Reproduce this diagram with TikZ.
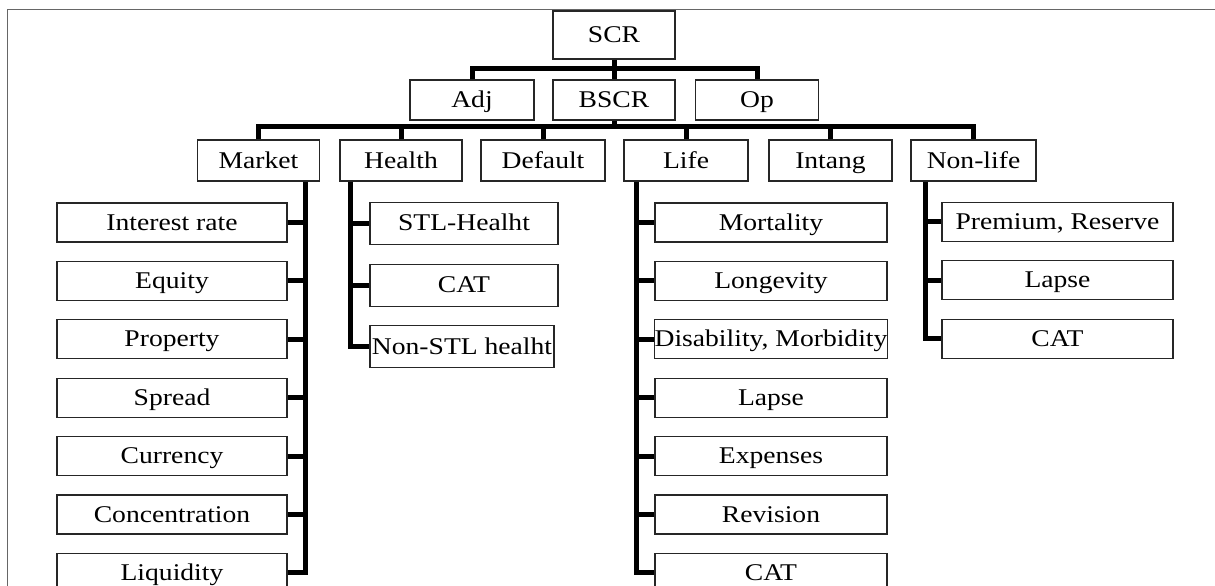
\documentclass[tikz,border=0pt]{standalone}
\usepackage{fontspec}
\setmainfont{Liberation Serif}[FakeStretch=1.15]
\usepackage{xcolor}

\begin{document}
\begin{tikzpicture}[x=1pt, y=-1pt, inner sep=0pt,
		box/.style={draw=black!85, line width=1.1pt, fill=white, minimum height=40pt, text height=20pt, text depth=5pt, font=\fontsize{24}{26}\selectfont},
		bar/.style={line width=5pt, line join=miter}]
			\useasboundingbox (0,0) rectangle (1215,586);
			\draw[black!60, line width=1pt] (7,600) |- (1215,9.5);

			% top levels
			\node[box, minimum width=122pt, minimum height=48pt] (scr) at (614, 35) {SCR};
			\node[box, minimum width=124pt] (adj) at (472, 100) {Adj};
			\node[box, minimum width=122pt] (bscr) at (614, 100) {BSCR};
			\node[box, minimum width=123pt] (op) at (757, 100) {Op};

			\node[box, minimum width=122pt, minimum height=41pt] (market) at (258.5, 160.5) {Market};
			\node[box, minimum width=122pt, minimum height=41pt] (health) at (401, 160.5) {Health};
			\node[box, minimum width=124pt, minimum height=41pt] (default) at (543, 160.5) {Default};
			\node[box, minimum width=124pt, minimum height=41pt] (life) at (686, 160.5) {Life};
			\node[box, minimum width=123pt, minimum height=41pt] (intang) at (830.5, 160.5) {Intang};
			\node[box, minimum width=125pt, minimum height=41pt] (nonlife) at (973.5, 160.5) {Non-life};

			\draw[bar] (scr.south) -- (bscr.north);
			\draw[bar] (adj.north) -- ++(0,-11) -| (op.north);
			\draw[bar] (bscr.south) -- ++(0,7);
			\draw[bar] (market.north) -- ++(0,-13) -| (nonlife.north);
			\foreach \n in {health, default, life, intang}
				\draw[bar] (\n.north) -- ++(0,-13);

			% sub-modules
			\foreach \t [count=\i] in {Interest rate, Equity, Property, Spread, Currency, Concentration, Liquidity}
				\node[box, minimum width=230pt, minimum height=39pt] (mkt\i) at (172, 164.1+58.4*\i) {\t};
			\foreach \t [count=\i] in {STL-Healht, CAT}
				\node[box, minimum width=188pt, minimum height=42pt] (hlt\i) at (464, 161.5+61.8*\i) {\t};
			\node[box, minimum width=184pt, minimum height=42pt] (hlt3) at (462, 346.5) {Non-STL healht};
			\foreach \t [count=\i] in {Mortality, Longevity, {Disability, Morbidity}, Lapse, Expenses, Revision, CAT}
				\node[box, minimum width=232pt, minimum height=39pt] (lf\i) at (771, 164.1+58.4*\i) {\t};
			\foreach \t [count=\i] in {{Premium, Reserve}, Lapse, CAT}
				\node[box, minimum width=231pt, minimum height=39pt] (nl\i) at (1057.5, 163.5+58.4*\i) {\t};

			\coordinate (mstem) at ([xshift=46.5pt]market.south);
			\coordinate (hstem) at ([xshift=-51pt]health.south);
			\coordinate (lstem) at ([xshift=-50pt]life.south);
			\coordinate (nstem) at ([xshift=-48.5pt]nonlife.south);

			\draw[bar] (mstem) |- (mkt7.east);
			\foreach \i in {1,...,6}
				\draw[bar] (mkt\i.east) -- (mkt\i.east -| mstem);
			\draw[bar] (hstem) |- (hlt3.west);
			\foreach \i in {1,2}
				\draw[bar] (hlt\i.west) -- (hlt\i.west -| hstem);
			\draw[bar] (lstem) |- (lf7.west);
			\foreach \i in {1,...,6}
				\draw[bar] (lf\i.west) -- (lf\i.west -| lstem);
			\draw[bar] (nstem) |- (nl3.west);
			\foreach \i in {1,2}
				\draw[bar] (nl\i.west) -- (nl\i.west -| nstem);
		\end{tikzpicture}
\end{document}
